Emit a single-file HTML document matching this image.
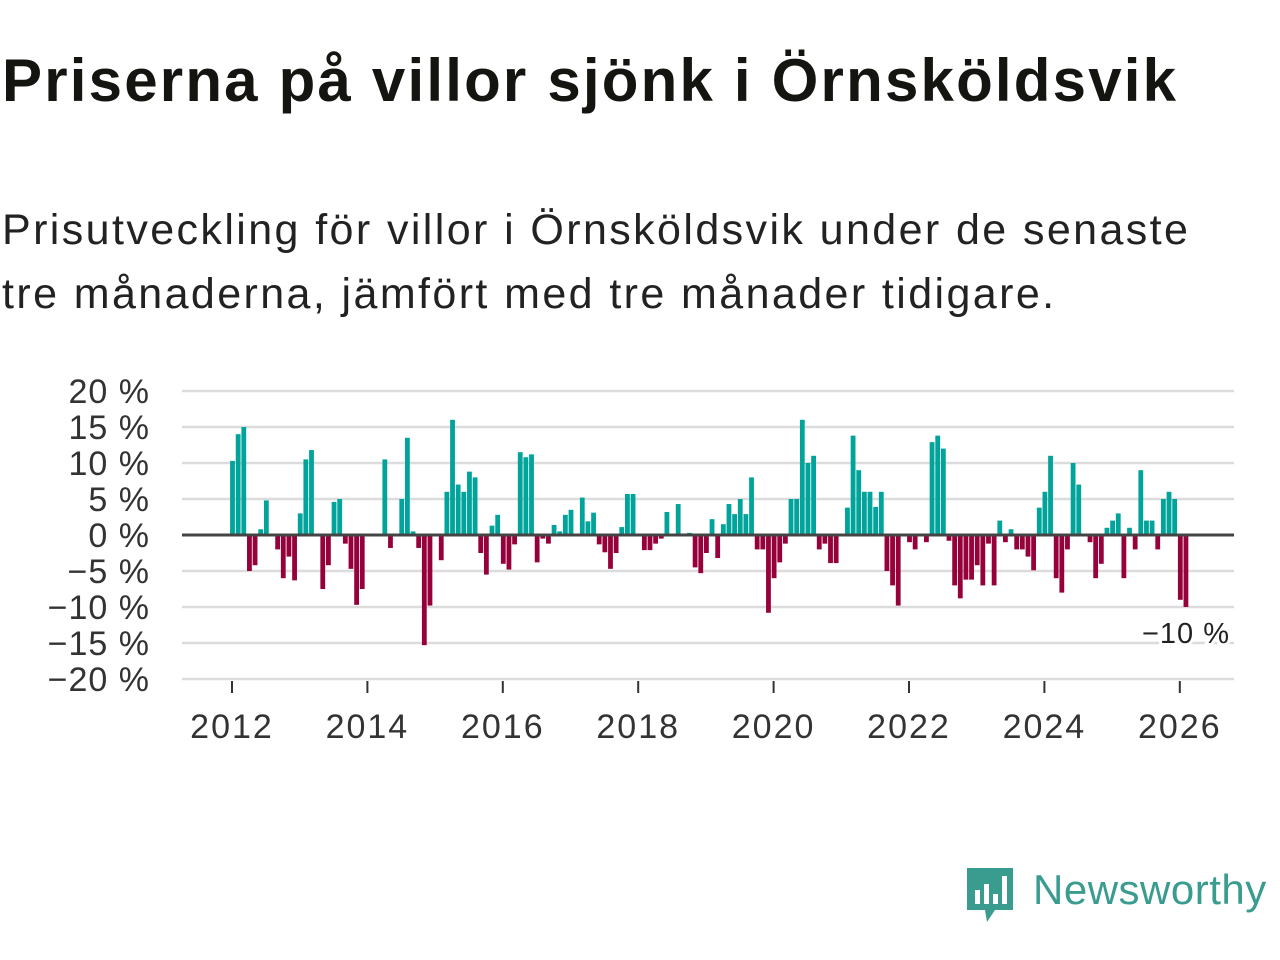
<!DOCTYPE html>
<html><head><meta charset="utf-8"><style>
body{margin:0;background:#fff;width:1280px;height:960px;overflow:hidden;font-family:"Liberation Sans",sans-serif;color:#111}
#title{position:absolute;left:2px;top:46px;font-size:60px;font-weight:bold;letter-spacing:2.2px;color:#141410}
#sub{position:absolute;left:2px;top:198px;font-size:43px;line-height:64px;letter-spacing:2.4px;color:#222}
</style></head><body>
<div id="title">Priserna på villor sjönk i Örnsköldsvik</div>
<div id="sub">Prisutveckling för villor i Örnsköldsvik under de senaste<br>tre månaderna, jämfört med tre månader tidigare.</div>
<svg id="chart" width="1280" height="960" style="position:absolute;left:0;top:0"></svg>
<script>
const values=[10.3,14,15,-5,-4.2,0.8,4.8,0,-2,-6,-3,-6.3,3,10.5,11.8,0,-7.5,-4.2,4.6,5,-1.2,-4.7,-9.7,-7.5,0,0,0,10.5,-1.8,0,5,13.5,0.5,-1.8,-15.3,-9.8,0,-3.5,6,16,7,6,8.8,8,-2.5,-5.5,1.3,2.8,-4,-4.8,-1.3,11.5,10.8,11.2,-3.8,-0.5,-1.2,1.4,0.5,2.8,3.5,0,5.2,1.9,3.1,-1.3,-2.4,-4.7,-2.5,1.1,5.7,5.7,0,-2.1,-2.1,-1.2,-0.5,3.2,0,4.3,0,0.3,-4.5,-5.3,-2.5,2.2,-3.2,1.5,4.3,2.9,5,2.9,8,-2,-2,-10.8,-6,-3.8,-1.2,5,5,16,10,11,-2,-1.2,-3.9,-3.9,0,3.8,13.8,9,6,6,3.9,6,-5,-7,-9.8,0,-1,-2,0,-1,12.9,13.8,12,-0.8,-7,-8.8,-6.2,-6.2,-4.2,-7,-1.2,-7,2,-1,0.8,-2,-2,-3,-4.9,3.8,6,11,-6,-8,-2,10,7,0,-1,-6,-4,1,2,3,-6,1,-2,9,2,2,-2,5,6,5,-9,-10];
const startYear=2012;
const yTicks=[20,15,10,5,0,-5,-10,-15,-20];
const yTickLabels=["20 %","15 %","10 %","5 %","0 %","−5 %","−10 %","−15 %","−20 %"];
const xTicks=[2012,2014,2016,2018,2020,2022,2024,2026];
const lastLabel="−10 %";
const NS="http://www.w3.org/2000/svg";
const svg=document.getElementById('chart');
const y=v=>535-v*7.2;
const x=t=>232+(t-2012)*67.7;
function mk(tag,attrs,parent){const e=document.createElementNS(NS,tag);for(const k in attrs)e.setAttribute(k,attrs[k]);(parent||svg).appendChild(e);return e;}
yTicks.forEach((t,i)=>{
  const l=mk('line',{x1:182,x2:1234,y1:y(t),y2:y(t),stroke:'#dcdcdc','stroke-width':2.5});
  
  
  const tx=mk('text',{x:150,y:y(t)+12,'text-anchor':'end','font-size':34,'letter-spacing':1,fill:'#333'});
  tx.textContent=yTickLabels[i];
  
  
});
values.forEach((v,i)=>{
  if(v===0)return;
  const cx=x(startYear+i/12)+0.5;
  const r=mk('rect',{x:cx-2.4,width:4.8,y:Math.min(y(v),y(0)),height:Math.abs(y(v)-y(0)),fill:v>0?'#00a49a':'#96003b'});
  
  
});
const zl=mk('line',{x1:182,x2:1234,y1:y(0),y2:y(0),stroke:'#444','stroke-width':3});


xTicks.forEach(t=>{
  const l=mk('line',{x1:x(t),x2:x(t),y1:681,y2:693,stroke:'#333','stroke-width':2});
  
  
  const tx=mk('text',{x:x(t),y:738,'text-anchor':'middle','font-size':34,'letter-spacing':2,fill:'#333'});
  tx.textContent=t;
  
  
});
const ll=mk('text',{x:1230,y:643,'text-anchor':'end','font-size':29,'letter-spacing':1,fill:'#222',stroke:'#fff','stroke-width':6,'paint-order':'stroke'});
ll.textContent=lastLabel;


</script>
<div style="position:absolute;left:965px;top:866px;width:320px;height:60px">
<svg width="50" height="60" style="position:absolute;left:0;top:0"><path d="M2 2 H48 V44 H30 L22 56 L20 44 H2 Z" fill="#3a9c8f"/><rect x="10" y="24" width="5" height="14" fill="#fff"/><rect x="19" y="18" width="5" height="20" fill="#fff"/><rect x="28" y="28" width="5" height="10" fill="#fff"/><rect x="37" y="10" width="5" height="28" fill="#fff"/></svg>
<div style="position:absolute;left:68px;top:0;font-size:42px;letter-spacing:0.5px;color:#3a9c8f">Newsworthy</div>
</div>
</body></html>
